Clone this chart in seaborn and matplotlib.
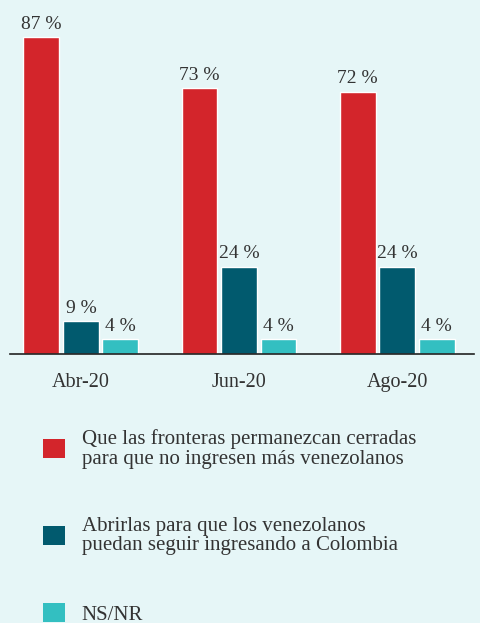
import pandas as pd
import matplotlib.pyplot as plt
import seaborn as sns
from matplotlib.patches import Patch

# Datos
meses = ['Abr-20', 'Jun-20', 'Ago-20']
cerradas = [87, 73, 72]
abrirlas = [9, 24, 24]
nsnr = [4, 4, 4]
series = ['Que las fronteras permanezcan cerradas\npara que no ingresen más venezolanos',
          'Abrirlas para que los venezolanos\npuedan seguir ingresando a Colombia',
          'NS/NR']
colores = ['#d3252b', '#015a6e', '#33bfc1']
fondo = '#e6f6f7'

df = pd.DataFrame({
    'mes': meses * 3,
    'serie': [series[0]] * 3 + [series[1]] * 3 + [series[2]] * 3,
    'valor': cerradas + abrirlas + nsnr,
})

sns.set_style('white')
plt.rcParams['font.family'] = ['Liberation Serif', 'DejaVu Serif']

fig = plt.figure(figsize=(4.8, 6.23), dpi=100, facecolor=fondo)
ax = fig.add_axes([10 / 480, 1 - 354 / 623, 464 / 480, 354 / 623])
ax.set_facecolor(fondo)

sns.barplot(data=df, x='mes', y='valor', hue='serie', palette=colores,
            width=0.75, gap=0.09, ax=ax, legend=False, saturation=1)

for cont in ax.containers:
    ax.bar_label(cont, fmt='{:.0f} %', padding=3, fontsize=14, color='#333333')

ax.set_ylim(0, 97.15)
ax.set_xlim(-0.449, 2.487)
ax.set_xlabel('')
ax.set_ylabel('')
ax.set_yticks([])
ax.tick_params(axis='x', length=0, labelsize=14.5, labelcolor='#333333', pad=14)
sns.despine(ax=ax, left=True)
ax.spines['bottom'].set_color('#222222')
ax.spines['bottom'].set_linewidth(1.2)

# Leyenda
handles = [Patch(facecolor=c, edgecolor='none') for c in colores]
leg = fig.legend(handles, series, loc='upper left', bbox_to_anchor=(43 / 480, 1 - 429 / 623),
                 frameon=False, fontsize=15, labelcolor='#333333', borderpad=0,
                 borderaxespad=0, handlelength=1.05, handleheight=1.0,
                 handletextpad=0.8, labelspacing=2.3)
for t in leg.get_texts():
    t.set_linespacing(1.05)

plt.savefig('out.png', dpi=100, facecolor=fondo)
